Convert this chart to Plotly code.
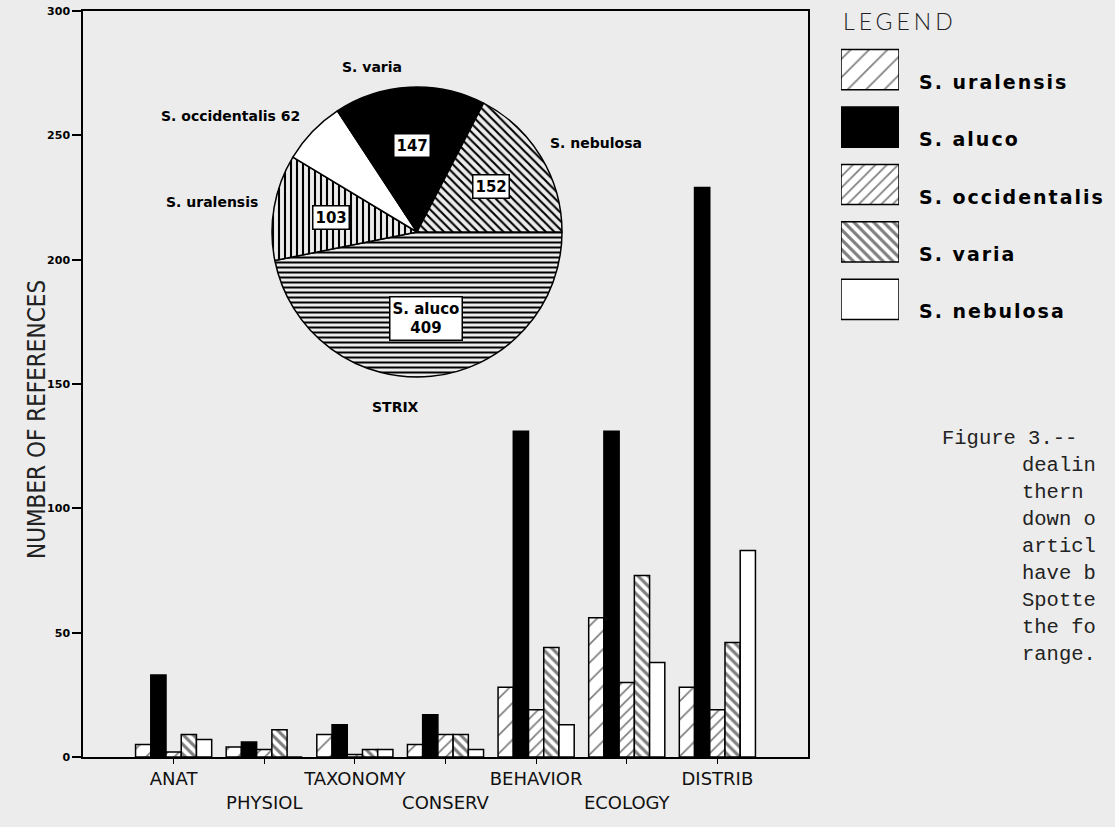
import math
import plotly.graph_objects as go

W, H = 1115, 827

# ---------------- data ----------------
categories = ["ANAT", "PHYSIOL", "TAXONOMY", "CONSERV", "BEHAVIOR", "ECOLOGY", "DISTRIB"]
tick_text = ["ANAT", "<br>PHYSIOL", "TAXONOMY", "<br>CONSERV", "BEHAVIOR", "<br>ECOLOGY", "DISTRIB"]
species = ["S. uralensis", "S. aluco", "S. occidentalis", "S. varia", "S. nebulosa"]
uralensis = [5, 4, 9, 5, 28, 56, 28]
aluco = [33, 6, 13, 17, 131, 131, 229]
occidentalis = [2, 3, 1, 9, 19, 30, 19]
varia = [9, 11, 3, 9, 44, 73, 46]
nebulosa = [7, 0, 3, 3, 13, 38, 83]
series = [uralensis, aluco, occidentalis, varia, nebulosa]

pie_labels = ["S. aluco", "S. uralensis", "S. occidentalis", "S. varia", "S. nebulosa"]
pie_values = [409, 103, 62, 147, 152]
pie_inside_text = ["S. aluco<br>409", "103", "", "147", "152"]

y_ticks = [0, 50, 100, 150, 200, 250, 300]

caption = ["Figure 3.--", "dealin", "thern", "down o", "articl", "have b", "Spotte", "the fo", "range."]

# ---------------- styles ----------------
BG = "#ececec"
styles = {
    "S. uralensis": dict(color="white", pattern=dict(shape="/", fgcolor="black", size=13, solidity=0.13)),
    "S. aluco": dict(color="black", pattern=dict(shape="")),
    "S. occidentalis": dict(color="white", pattern=dict(shape="/", fgcolor="black", size=8, solidity=0.22)),
    "S. varia": dict(color="white", pattern=dict(shape="\\", fgcolor="black", size=7, solidity=0.45)),
    "S. nebulosa": dict(color="white", pattern=dict(shape="")),
}


def px_x(x):
    return x / W


def px_y(y):
    return 1 - y / H


fig = go.Figure()

# main grouped bars
for name, vals in zip(species, series):
    st = styles[name]
    fig.add_trace(go.Bar(
        x=categories, y=vals, name=name,
        marker=dict(color=st["color"], pattern=st["pattern"], line=dict(color="black", width=1.5)),
        xaxis="x", yaxis="y", showlegend=False,
    ))

# legend swatches (drawn as bars on their own hidden axes)
for name in species:
    st = styles[name]
    fig.add_trace(go.Bar(
        y=[name], x=[1], orientation="h", width=0.70,
        marker=dict(color=st["color"], pattern=st["pattern"], line=dict(color="black", width=1.5)),
        xaxis="x2", yaxis="y2", showlegend=False, hoverinfo="skip",
    ))

# pie
cx, cy, R = 417, 232, 145
fig.add_trace(go.Pie(
    labels=pie_labels, values=pie_values, sort=False, direction="clockwise", rotation=90,
    textinfo="none", showlegend=False,
    domain=dict(x=[px_x(cx - R), px_x(cx + R)], y=[px_y(cy + R), px_y(cy - R)]),
    marker=dict(
        colors=["white", "white", "white", "black", "white"],
        line=dict(color="black", width=1.5),
        pattern=dict(shape=["-", "|", "", "", "\\"], fgcolor="black",
                     size=[5, 6, 8, 8, 6], solidity=[0.4, 0.35, 0.3, 0.3, 0.35]),
    ),
))

annotations = []


def note(x, y, text, font, xanchor="center", yanchor="middle", **kw):
    d = dict(x=x, y=y, text=text, font=font, showarrow=False,
             xanchor=xanchor, yanchor=yanchor)
    d.setdefault("xref", "paper")
    d.setdefault("yref", "paper")
    d.update(kw)
    annotations.append(d)


# pie inside labels, placed along each slice's mid angle
total = sum(pie_values)
cum = 0
for lab, v, txt in zip(pie_labels, pie_values, pie_inside_text):
    mid = (cum + v / 2) / total
    cum += v
    if not txt:
        continue
    th = math.radians(90 + 360 * mid)
    x = cx + 0.6 * R * math.sin(th)
    y = cy - 0.6 * R * math.cos(th)
    note(px_x(x), px_y(y), txt,
         dict(family="DejaVu Sans", size=15, color="black", weight="bold"),
         bgcolor="white", bordercolor="black", borderwidth=1.5, borderpad=2)

bold = dict(family="DejaVu Sans", size=14, color="black", weight="bold")
outer = [
    ("S. varia", 372, 67, "center"),
    ("S. occidentalis 62", 302, 116, "right"),
    ("S. uralensis", 260, 202, "right"),
    ("S. nebulosa", 548, 143, "left"),
    ("STRIX", 395, 407, "center"),
]
for txt, x, y, anc in outer:
    note(px_x(x), px_y(y), txt, bold, xanchor=anc)

# legend title and texts
note(px_x(841), px_y(21), '<span style="letter-spacing:4px">LEGEND</span>',
     dict(family="Lato, DejaVu Sans", size=23, color="#222", weight=300), xanchor="left")
for name in species:
    note(px_x(917), name, '<span style="letter-spacing:2px">' + name + '</span>',
         dict(family="DejaVu Sans", size=19, color="black", weight="bold"),
         xanchor="left", yref="y2", yshift=-12)

# y axis title
note(px_x(37), px_y(420), "NUMBER OF REFERENCES",
     dict(family="Liberation Sans Narrow, DejaVu Sans Condensed, sans-serif", size=24, color="#222"),
     textangle=-90)

# caption fragment (cut at page edge)
for i, line in enumerate(caption):
    note(px_x(940 if i == 0 else 1020), px_y(438 + 27 * i), line,
         dict(family="Liberation Mono, Courier New, monospace", size=20.5, color="#222"),
         xanchor="left")

fig.update_layout(
    width=W, height=H, margin=dict(l=0, r=0, t=0, b=0),
    paper_bgcolor=BG, plot_bgcolor=BG,
    barmode="group", bargap=0.16, bargroupgap=0,
    showlegend=False,
    annotations=annotations,
    xaxis=dict(domain=[px_x(83), px_x(808)], type="category", range=[-1, 7],
               tickvals=categories, ticktext=tick_text, ticks="outside", ticklen=5,
               tickangle=0, tickcolor="black", showline=True, linecolor="black", linewidth=1.5,
               mirror=True, showgrid=False, zeroline=False, automargin=False,
               tickfont=dict(family="DejaVu Sans", size=18, color="#111")),
    yaxis=dict(domain=[px_y(757), px_y(11)], range=[0, 300], tickvals=y_ticks,
               ticks="outside", ticklen=9, tickcolor="black", tickwidth=1.5,
               showline=True, linecolor="black", linewidth=1.5, mirror=True,
               showgrid=False, zeroline=False, automargin=False,
               tickfont=dict(family="DejaVu Sans", size=11, color="black", weight="bold")),
    xaxis2=dict(domain=[px_x(841), px_x(899)], range=[0, 1], visible=False, anchor="y2"),
    yaxis2=dict(domain=[px_y(328), px_y(41)], visible=False, anchor="x2",
                autorange="reversed", categoryorder="array", categoryarray=species),
)

fig.write_html("out.html", config={"displayModeBar": False},
               post_script="document.body.style.margin='0';")
